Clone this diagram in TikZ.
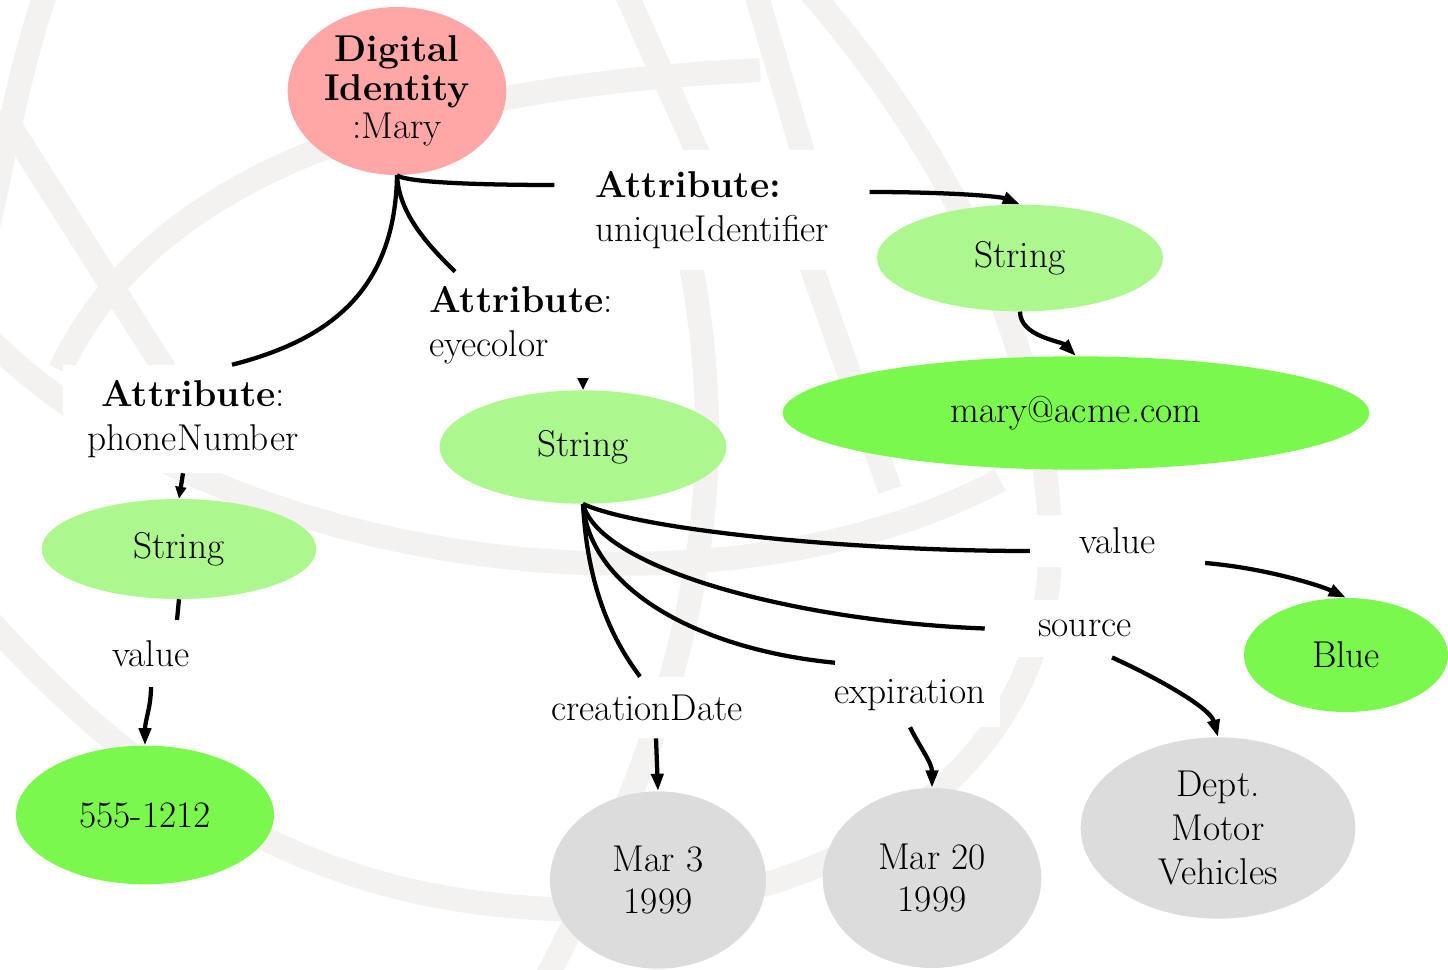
\documentclass[tikz,border=0pt]{standalone}
\usetikzlibrary{shapes.geometric,arrows.meta}
\definecolor{pinkid}{HTML}{FFA6A6}
\definecolor{palegreen}{HTML}{ACF88F}
\definecolor{vivgreen}{HTML}{7AF84D}
\definecolor{valgray}{HTML}{DCDCDC}
\definecolor{wmark}{HTML}{F3F2F0}
\begin{document}
\begin{tikzpicture}[x=0.75pt,y=-0.75pt,
  blob/.style={ellipse, inner sep=0pt, draw=none, align=center,
    font=\fontsize{28}{31.5}\selectfont},
  lbl/.style={rectangle, fill=white, inner sep=0pt, align=center,
    font=\fontsize{28}{33}\selectfont},
  link/.style={line width=3.2pt, line join=round},
  arr/.style={link, -{Triangle[length=13pt,width=9pt]}},
  sarr/.style={link, -{Triangle[length=9pt,width=8pt]}},
  wm/.style={draw=wmark, line width=18pt}]
\useasboundingbox (0,0) rectangle (1448,970);

% faint emblem in the background
\begin{scope}
  \clip (0,0) rectangle (1448,970);
  \draw[wm] (50,-20) .. controls (15,80) and (5,160) .. (-20,260);
  \draw[wm] (-20,610) .. controls (200,860) and (400,910) .. (600,910)
            .. controls (850,905) and (1050,760) .. (1050,550)
            .. controls (1050,350) and (950,150) .. (800,-20);
  \draw[wm] (60,370) .. controls (140,200) and (350,90) .. (760,70);
  \draw[wm] (-20,330) .. controls (200,560) and (700,640) .. (1000,480);
  \draw[wm] (0,110) -- (165,370);
  \draw[wm] (620,-20) -- (701,160);
  \draw[wm] (690,260) .. controls (725,450) and (720,650) .. (540,990);
  \draw[wm] (752,-20) -- (805,160);
  \draw[wm] (795,220) -- (890,490);
\end{scope}

% edge labels (white boxes)
\node[lbl, align=left, minimum width=236pt, minimum height=90pt] (lu) at (712,210)
  {\textbf{Attribute:}\\uniqueIdentifier};
\node[lbl, align=left, minimum width=136.5pt, minimum height=79.5pt] (le) at (521,325)
  {\textbf{Attribute}:\\eyecolor};
\node[lbl, minimum width=195pt, minimum height=81pt] (lp) at (193,419)
  {\textbf{Attribute}:\\phoneNumber};
\node[lbl, minimum width=82.5pt, minimum height=50pt] (lv1) at (151,653.5) {value};
\node[lbl, minimum width=131pt, minimum height=39pt] (lv2) at (1117.5,541) {value};
\node[lbl, minimum width=150pt, minimum height=43pt] (ls) at (1085,628.5) {source};
\node[lbl, minimum width=135pt, minimum height=48pt] (lx) at (910,695) {expiration};
\node[lbl, minimum width=161pt, minimum height=46pt] (lc) at (647,707.5) {creationDate};

% nodes
\node[blob, fill=pinkid, minimum width=164pt, minimum height=126pt,
  font=\fontsize{28}{29}\selectfont] (di) at (397,91)
  {\textbf{Digital}\\\textbf{Identity}\\:Mary};
\node[blob, fill=palegreen, minimum width=214.5pt, minimum height=80pt] (s1) at (1020,258) {String};
\node[blob, fill=vivgreen, minimum width=440pt, minimum height=85pt] (mail) at (1076,413) {mary@acme.com};
\node[blob, fill=palegreen, minimum width=215pt, minimum height=85pt] (s2) at (583,447) {String};
\node[blob, fill=palegreen, minimum width=206pt, minimum height=75pt] (s3) at (179,549) {String};
\node[blob, fill=vivgreen, minimum width=193.5pt, minimum height=104pt] (phone) at (145,815) {555-1212};
\node[blob, fill=vivgreen, minimum width=153pt, minimum height=85.5pt] (blue) at (1346,655) {Blue};
\node[blob, fill=valgray, minimum width=162pt, minimum height=133pt] (d1) at (658,880) {Mar 3\\1999};
\node[blob, fill=valgray, minimum width=164pt, minimum height=135pt] (d2) at (932,878) {Mar 20\\1999};
\node[blob, fill=valgray, minimum width=206pt, minimum height=136pt,
  font=\fontsize{28}{33}\selectfont] (dept) at (1218,828) {Dept.\\Motor\\Vehicles};

% connectors
\draw[link] (di.south) .. controls +(10,8) and +(-60,0) .. ([yshift=18.75pt]lu.west);
\draw[arr] ([yshift=13.5pt]lu.east) .. controls +(80,0) and +(-20,-8) .. (s1.north);
\draw[link] (di.south) .. controls +(2,40) and +(-25,-25) .. ([xshift=-49.5pt]le.north);
\draw[sarr] ([xshift=46.5pt]le.south) -- (s2.north);
\draw[link] (di.south) .. controls +(-2,115) and +(98,-25) .. ([xshift=29.25pt]lp.north);
\draw[sarr] ([xshift=-7.5pt]lp.south) -- (s3.north);
\draw[link] (s3.south) -- ([xshift=19.5pt]lv1.north);
\draw[arr] (lv1.south) .. controls +(0,20) and +(0,-25) .. (phone.north);
\draw[arr] (s1.south) .. controls +(0,25) and +(-15,-15) .. (mail.north);
\draw[link] (s2.south) .. controls +(57,26) and +(-180,0) .. ([yshift=-7.5pt]lv2.west);
\draw[link] (s2.south) .. controls +(17,66) and +(-185,-7) .. (ls.west);
\draw[link] (s2.south) .. controls +(7,86) and +(-135,-13) .. ([xshift=-56.25pt]lx.north);
\draw[link] (s2.south) .. controls +(5,96) and +(-20,-27) .. ([xshift=-5.25pt]lc.north);
\draw[arr] ([yshift=-16.5pt]lv2.east) .. controls +(60,5) and +(-25,-12) .. (blue.north);
\draw[arr] ([xshift=20.25pt]ls.south) .. controls +(40,18) and +(-8,-30) .. (dept.north);
\draw[arr] (lx.south) .. controls +(10,20) and +(0,-25) .. (d2.north);
\draw[arr] ([xshift=6.75pt]lc.south) -- (d1.north);
\end{tikzpicture}
\end{document}
